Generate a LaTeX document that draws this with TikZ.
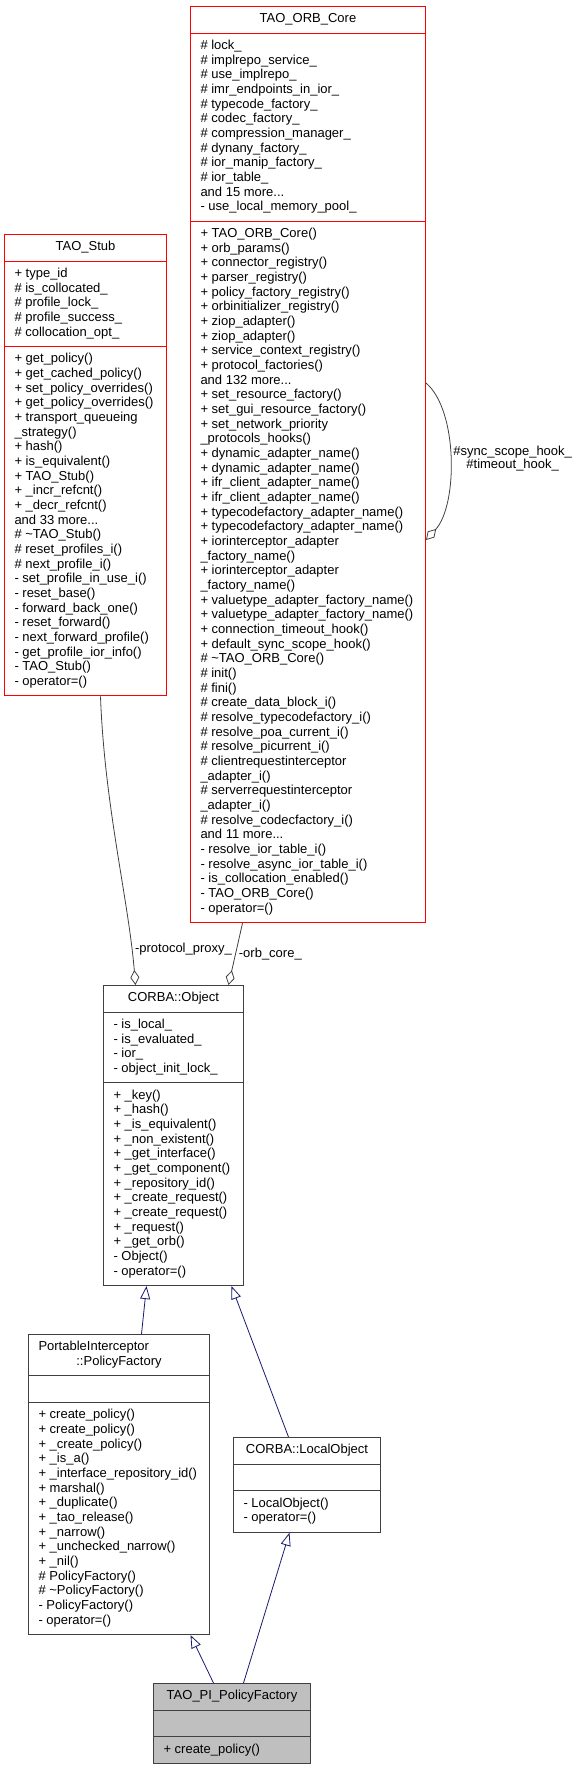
\documentclass[tikz,border=0pt]{standalone}
\usepackage{fontspec}
\setmainfont{Liberation Sans}
\usetikzlibrary{shapes.multipart,arrows.meta,calc}
\definecolor{edgegray}{HTML}{404040}
\definecolor{inhblue}{HTML}{191970}
\definecolor{boxgray}{HTML}{BFBFBF}

\begin{document}
\begin{tikzpicture}[x=1pt,y=-1pt,font=\fontsize{13}{14.67}\selectfont,
    cls/.style={draw=edgegray,line width=1pt,rectangle split,rectangle split parts=3,
      rectangle split part align={center,left,left},align=left,anchor=north west,
      inner xsep=10pt,inner ysep=5.5pt},
    trunc/.style={cls,draw=red},
    assoc/.style={draw=edgegray,line width=0.8pt,-{Diamond[open,length=15pt,width=9pt]}},
    inherit/.style={draw=inhblue,line width=0.8pt,-{Triangle[open,length=13pt,width=10pt]}}]
  \useasboundingbox (0,0) rectangle (579,1765);

  \node[trunc,minimum width=235pt] (orb) at (190,6) {\strut TAO\_ORB\_Core
    \nodepart{two}\strut\# lock\_\\
    \# implrepo\_service\_\\
    \# use\_implrepo\_\\
    \# imr\_endpoints\_in\_ior\_\\
    \# typecode\_factory\_\\
    \# codec\_factory\_\\
    \# compression\_manager\_\\
    \# dynany\_factory\_\\
    \# ior\_manip\_factory\_\\
    \# ior\_table\_\\
    and 15 more...\\
    - use\_local\_memory\_pool\_\strut
    \nodepart{three}\strut+ TAO\_ORB\_Core()\\
    + orb\_params()\\
    + connector\_registry()\\
    + parser\_registry()\\
    + policy\_factory\_registry()\\
    + orbinitializer\_registry()\\
    + ziop\_adapter()\\
    + ziop\_adapter()\\
    + service\_context\_registry()\\
    + protocol\_factories()\\
    and 132 more...\\
    + set\_resource\_factory()\\
    + set\_gui\_resource\_factory()\\
    + set\_network\_priority\\
    \_protocols\_hooks()\\
    + dynamic\_adapter\_name()\\
    + dynamic\_adapter\_name()\\
    + ifr\_client\_adapter\_name()\\
    + ifr\_client\_adapter\_name()\\
    + typecodefactory\_adapter\_name()\\
    + typecodefactory\_adapter\_name()\\
    + iorinterceptor\_adapter\\
    \_factory\_name()\\
    + iorinterceptor\_adapter\\
    \_factory\_name()\\
    + valuetype\_adapter\_factory\_name()\\
    + valuetype\_adapter\_factory\_name()\\
    + connection\_timeout\_hook()\\
    + default\_sync\_scope\_hook()\\
    \# \textasciitilde TAO\_ORB\_Core()\\
    \# init()\\
    \# fini()\\
    \# create\_data\_block\_i()\\
    \# resolve\_typecodefactory\_i()\\
    \# resolve\_poa\_current\_i()\\
    \# resolve\_picurrent\_i()\\
    \# clientrequestinterceptor\\
    \_adapter\_i()\\
    \# serverrequestinterceptor\\
    \_adapter\_i()\\
    \# resolve\_codecfactory\_i()\\
    and 11 more...\\
    - resolve\_ior\_table\_i()\\
    - resolve\_async\_ior\_table\_i()\\
    - is\_collocation\_enabled()\\
    - TAO\_ORB\_Core()\\
    - operator=()\strut};

  \node[trunc,minimum width=162pt] (stub) at (4,234) {\strut TAO\_Stub
    \nodepart{two}\strut+ type\_id\\
    \# is\_collocated\_\\
    \# profile\_lock\_\\
    \# profile\_success\_\\
    \# collocation\_opt\_\strut
    \nodepart{three}\strut+ get\_policy()\\
    + get\_cached\_policy()\\
    + set\_policy\_overrides()\\
    + get\_policy\_overrides()\\
    + transport\_queueing\\
    \_strategy()\\
    + hash()\\
    + is\_equivalent()\\
    + TAO\_Stub()\\
    + \_incr\_refcnt()\\
    + \_decr\_refcnt()\\
    and 33 more...\\
    \# \textasciitilde TAO\_Stub()\\
    \# reset\_profiles\_i()\\
    \# next\_profile\_i()\\
    - set\_profile\_in\_use\_i()\\
    - reset\_base()\\
    - forward\_back\_one()\\
    - reset\_forward()\\
    - next\_forward\_profile()\\
    - get\_profile\_ior\_info()\\
    - TAO\_Stub()\\
    - operator=()\strut};

  \node[cls,minimum width=140pt] (obj) at (103,985) {\strut CORBA::Object
    \nodepart{two}\strut- is\_local\_\\
    - is\_evaluated\_\\
    - ior\_\\
    - object\_init\_lock\_\strut
    \nodepart{three}\strut+ \_key()\\
    + \_hash()\\
    + \_is\_equivalent()\\
    + \_non\_existent()\\
    + \_get\_interface()\\
    + \_get\_component()\\
    + \_repository\_id()\\
    + \_create\_request()\\
    + \_create\_request()\\
    + \_request()\\
    + \_get\_orb()\\
    - Object()\\
    - operator=()\strut};

  \node[cls,minimum width=181pt] (pf) at (28,1334) {\parbox{161pt}{\strut PortableInterceptor\par
      \centering ::PolicyFactory\strut}
    \nodepart{two}\strut
    \nodepart{three}\strut+ create\_policy()\\
    + create\_policy()\\
    + \_create\_policy()\\
    + \_is\_a()\\
    + \_interface\_repository\_id()\\
    + marshal()\\
    + \_duplicate()\\
    + \_tao\_release()\\
    + \_narrow()\\
    + \_unchecked\_narrow()\\
    + \_nil()\\
    \# PolicyFactory()\\
    \# \textasciitilde PolicyFactory()\\
    - PolicyFactory()\\
    - operator=()\strut};

  \node[cls,minimum width=147pt] (lobj) at (233,1437) {\strut CORBA::LocalObject
    \nodepart{two}\strut
    \nodepart{three}\strut- LocalObject()\\
    - operator=()\strut};

  \node[cls,minimum width=157pt,fill=boxgray] (pi) at (153,1683) {\strut TAO\_PI\_PolicyFactory
    \nodepart{two}\strut
    \nodepart{three}\strut+ create\_policy()\strut};

  \draw[assoc] ($(stub.south)+(15,0)$) .. controls ($(stub.south)+(19,109)$) and ($(obj.north)+(-45,-85)$) ..
    ($(obj.north)+(-38,0)$) node[pos=0.86,right,inner sep=3pt] {-protocol\_proxy\_};
  \draw[assoc] ($(orb.south)+(-65.5,0)$) -- ($(obj.north)+(55,0)$)
    node[pos=0.5,right,inner sep=3pt] {-orb\_core\_};
  \draw[assoc] (orb.north east |- 0,383) .. controls (458,410) and (458,505) .. (orb.north east |- 0,540)
    node[midway,right,inner sep=3pt,align=center,font=\fontsize{13}{13}\selectfont]
    {\#sync\_scope\_hook\_\\\#timeout\_hook\_};

  \draw[inherit] ($(pf.north)+(22.5,0)$) -- ($(obj.south)+(-27,0)$);
  \draw[inherit] ($(lobj.north)+(-18.5,0)$) -- ($(obj.south)+(58,0)$);
  \draw[inherit] ($(pi.north)+(-18.5,0)$) -- ($(pf.south)+(71.5,0)$);
  \draw[inherit] ($(pi.north)+(11.5,0)$) -- ($(lobj.south)+(-17.5,0)$);
\end{tikzpicture}
\end{document}
